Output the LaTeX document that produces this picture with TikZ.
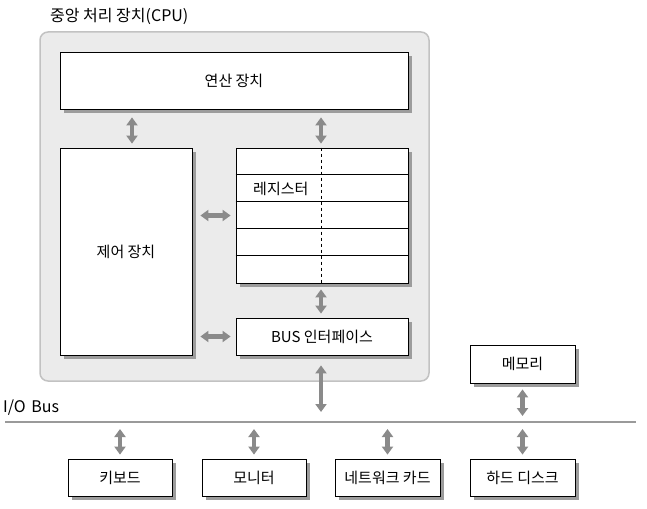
\documentclass[tikz,border=0pt]{standalone}
\usepackage{fontspec}
\setmainfont{Noto Sans CJK KR}
\usetikzlibrary{arrows.meta,calc}
\definecolor{cpufill}{HTML}{EBEBEB}
\definecolor{cpuedge}{HTML}{C2C2C2}
\definecolor{arrowgray}{HTML}{8A8A8A}
\definecolor{shadowgray}{HTML}{9C9C9C}
\definecolor{busgray}{HTML}{9A9A9A}
\begin{document}
\begin{tikzpicture}[x=1pt,y=-1pt,
  box/.style={draw=black, line width=0.8pt, fill=white, inner sep=0pt,
    font=\fontsize{15}{17}\selectfont,
    preaction={fill=shadowgray, transform canvas={shift={(4pt,-4pt)}}}},
  lbl/.style={inner sep=0pt, font=\fontsize{15}{17}\selectfont},
  biglbl/.style={inner sep=0pt, font=\fontsize{16}{18}\selectfont},
  dbl/.style={draw=arrowgray, line width=4.5pt,
    {Triangle[width=11pt,length=8pt]}-{Triangle[width=11pt,length=8pt]}},
  rowline/.style={draw=black, line width=0.6pt}
]
\useasboundingbox (0,0) rectangle (647,508);

% CPU frame
\draw[fill=cpufill, draw=cpuedge, line width=1.5pt, rounded corners=8pt] (40,32) rectangle (429,381);
\node[biglbl, anchor=west] (title) at (50,16) {중앙 처리 장치(CPU)};

% boxes
\node[box, minimum width=348, minimum height=57] (alu) at (234,80.5) {연산 장치};
\node[box, minimum width=132, minimum height=207] (ctrl) at (126,251.5) {제어 장치};
\node[box, minimum width=172, minimum height=135] (reg) at (322,215.5) {};
\node[box, minimum width=172, minimum height=37] (bus) at (322,336.5) {BUS 인터페이스};
\node[box, minimum width=105, minimum height=38] (mem) at (522.5,364) {메모리};
\node[box, minimum width=104, minimum height=37] (kbd) at (120,477.5) {키보드};
\node[box, minimum width=104, minimum height=37] (mon) at (254,477.5) {모니터};
\node[box, minimum width=105, minimum height=37] (net) at (387.5,477.5) {네트워크 카드};
\node[box, minimum width=105, minimum height=37] (hdd) at (522.5,477.5) {하드 디스크};

% register rows
\foreach \k in {27,54,81,108}{
  \draw[rowline] ($(reg.north west)+(0,\k)$) -- ($(reg.north east)+(0,\k)$);
}
\draw[dashed, line width=0.6pt] ([xshift=-1pt]reg.north) -- ([xshift=-1pt]reg.south);
\node[lbl, anchor=west] (reglbl) at (253,188.5) {레지스터};

% I/O bus
\coordinate (busL) at (5,422);
\coordinate (busR) at (636,422);
\draw[busgray, line width=2pt] (busL) -- (busR);
\node[biglbl, anchor=west] (iobus) at (3,408) {I/O\hspace{0.35em}Bus};

% arrows inside CPU
\draw[dbl, shorten <=8pt, shorten >=4pt] ([xshift=6pt]ctrl.north |- alu.south) -- ([xshift=6pt]ctrl.north);
\draw[dbl, shorten <=8pt, shorten >=4pt] ([xshift=-1pt]reg.north |- alu.south) -- ([xshift=-1pt]reg.north);
\draw[dbl, shorten <=8pt, shorten >=5pt] (ctrl.east |- reg.west) -- (reg.west);
\draw[dbl, shorten <=8pt, shorten >=5pt] (ctrl.east |- bus.west) -- (bus.west);
\draw[dbl, shorten <=6pt, shorten >=4pt] ([xshift=-1pt]reg.south) -- ([xshift=-1pt]bus.north);
\draw[dbl, shorten <=10pt, shorten >=10pt] ([xshift=-1pt]bus.south) -- ([xshift=-1pt]bus.south |- busL);

% memory and devices
\draw[dbl, shorten <=6pt, shorten >=6pt] (mem.south) -- (mem.south |- busL);
\foreach \d in {kbd,mon,net,hdd}{
  \draw[dbl, shorten <=7pt, shorten >=4pt] (\d.north |- busL) -- (\d.north);
}
\end{tikzpicture}
\end{document}
